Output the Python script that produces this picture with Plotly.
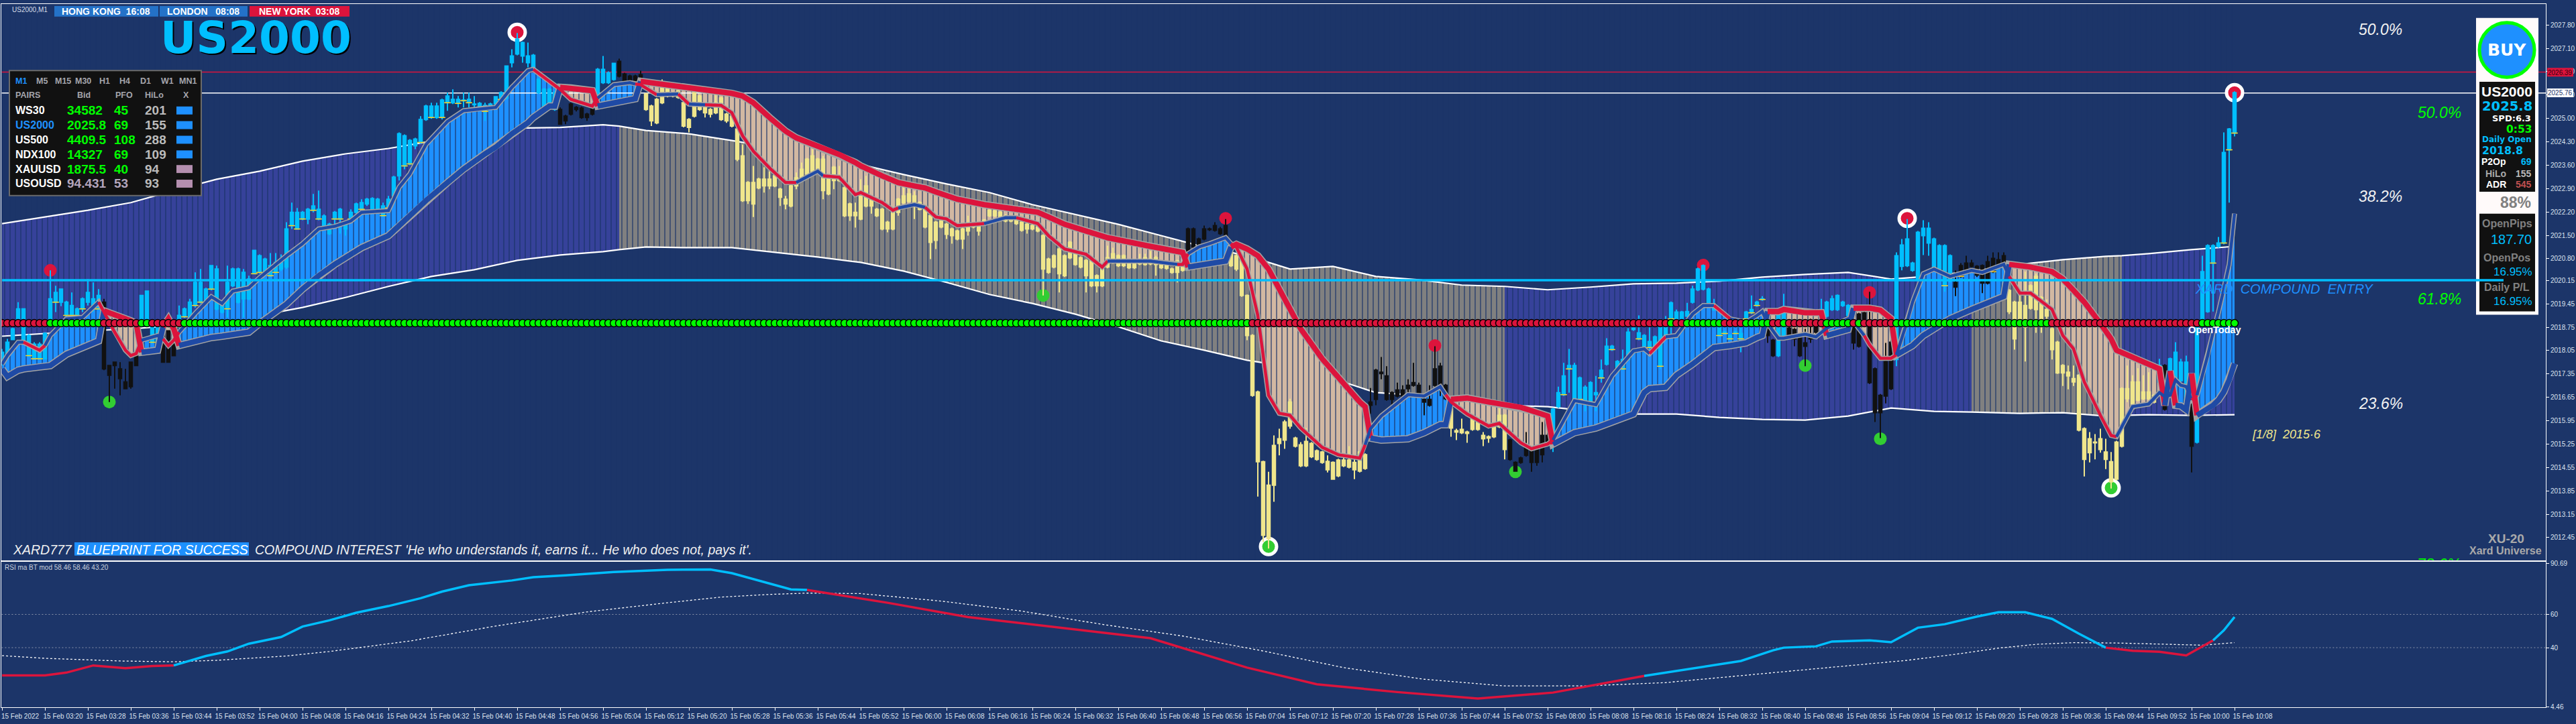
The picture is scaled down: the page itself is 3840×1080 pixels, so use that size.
import numpy as np
import pandas as pd
import plotly.graph_objects as go

# ---------------------------------------------------------------- data
PRICE_BASE = 2000.0          # all price lists below: hundredths of a point above the base
FIRST_BAR = pd.Timestamp("2022-02-15 03:12")
BAR_COUNT = 417

candle_high = [
1810,1840,1874,1950,1930,1854,1830,1830,1860,2045,
1999,1989,1954,1979,1934,1964,2019,2009,1989,1960,
1760,1770,1770,1750,1770,1800,1970,1983,1880,1880,
1864,1864,1840,1940,1934,1960,2039,2049,1993,2059,
2059,1954,2059,2053,2053,2049,2029,2105,2093,2083,
2097,2097,2093,2189,2248,2232,2223,2232,2274,2284,
2213,2187,2223,2232,2189,2228,2248,2258,2262,2264,
2262,2248,2268,2328,2458,2452,2438,2442,2507,2541,
2547,2547,2559,2577,2587,2567,2577,2577,2567,2549,
2547,2547,2567,2581,2657,2707,2756,2730,2727,2693,
2621,2591,2591,2583,2533,2511,2547,2537,2535,2517,
2533,2651,2687,2641,2665,2679,2637,2631,2631,2643,
2577,2541,2561,2617,2597,2581,2587,2551,2501,2581,
2571,2537,2531,2571,2565,2517,2511,2471,2422,2312,
2358,2322,2354,2342,2332,2292,2268,2302,2338,2368,
2382,2408,2382,2388,2326,2358,2358,2296,2248,2248,
2318,2328,2262,2232,2232,2193,2232,2262,2294,2294,
2282,2252,2242,2213,2193,2197,2187,2173,2167,2173,
2209,2187,2189,2199,2228,2227,2223,2213,2209,2199,
2193,2187,2183,2179,2153,2083,2093,2119,2093,2133,
2105,2087,2079,2083,2033,2059,2119,2113,2093,2093,
2073,2075,2095,2095,2103,2089,2069,2065,2053,2077,
2065,2173,2173,2143,2179,2173,2189,2175,2199,2113,
2093,2083,1973,1854,1685,1475,1442,1551,1571,1597,
1661,1547,1531,1573,1531,1509,1505,1491,1473,1481,
1493,1519,1493,1505,1497,1693,1750,1786,1758,1683,
1709,1701,1719,1768,1709,1663,1701,1818,1768,1705,
1635,1571,1601,1565,1609,1605,1561,1551,1583,1637,
1615,1541,1473,1487,1561,1515,1515,1591,1573,1633,
1697,1768,1810,1768,1727,1701,1713,1729,1778,1842,
1822,1776,1808,1872,1878,1910,1854,1878,1850,1900,
1908,1952,1928,1924,1948,1999,2053,2063,1993,1960,
1894,1864,1854,1864,1900,1924,1970,1954,1968,1910,
1840,1932,1975,1876,1872,1854,1870,1900,1890,1960,
1954,1970,1973,1954,1944,1896,1918,1922,1981,1754,
1675,1828,1906,2099,2139,2199,2071,2163,2195,2189,
2143,2123,2123,2093,2045,2067,2089,2077,2061,2063,
2089,2099,2099,2099,1989,1954,1975,2041,2003,2035,
1968,1958,1876,1834,1764,1760,1760,1734,1575,1561,
1555,1571,1541,1501,1535,1695,1760,1731,1752,1731,
1740,1675,1780,1764,1784,1830,1780,1790,1649,1878,
2089,2123,2123,2145,2458,2471,2581]

candle_body_top = [
1800,1830,1870,1930,1930,1850,1824,1824,1856,1960,
1979,1989,1950,1940,1930,1960,1979,1960,1970,1950,
1760,1770,1750,1711,1770,1796,1970,1983,1876,1876,
1864,1864,1836,1910,1930,1950,2009,2009,1989,2059,
2049,1950,2009,2049,2049,2039,2019,2105,2089,2079,
2059,2069,2069,2169,2219,2219,2219,2228,2238,2228,
2208,2183,2219,2228,2183,2219,2244,2248,2258,2260,
2258,2238,2258,2324,2454,2448,2434,2438,2497,2537,
2537,2537,2555,2567,2557,2557,2555,2557,2543,2545,
2539,2543,2565,2577,2657,2687,2737,2727,2687,2689,
2617,2587,2587,2577,2527,2507,2543,2533,2531,2513,
2529,2647,2647,2637,2665,2671,2633,2627,2627,2631,
2573,2537,2557,2593,2593,2577,2581,2547,2497,2577,
2567,2533,2527,2547,2561,2513,2507,2468,2388,2308,
2308,2318,2318,2318,2328,2288,2258,2298,2322,2348,
2378,2388,2378,2378,2322,2354,2328,2292,2244,2219,
2268,2298,2258,2228,2228,2189,2228,2258,2268,2274,
2268,2248,2238,2209,2189,2193,2183,2169,2163,2169,
2175,2183,2179,2195,2225,2223,2219,2209,2205,2195,
2189,2183,2179,2175,2149,2079,2089,2109,2089,2129,
2095,2083,2075,2075,2029,2049,2083,2095,2089,2089,
2069,2069,2075,2083,2079,2083,2065,2061,2049,2073,
2059,2169,2169,2139,2169,2169,2179,2169,2179,2109,
2089,2079,1970,1850,1681,1472,1402,1521,1541,1591,
1651,1543,1523,1533,1527,1505,1501,1473,1470,1477,
1477,1477,1470,1501,1493,1651,1746,1740,1729,1679,
1687,1687,1701,1709,1701,1659,1659,1750,1758,1701,
1631,1565,1569,1561,1605,1601,1551,1547,1579,1611,
1611,1537,1470,1483,1515,1511,1511,1551,1551,1629,
1679,1729,1760,1760,1723,1695,1709,1679,1746,1818,
1818,1772,1778,1860,1872,1858,1850,1832,1846,1878,
1886,1948,1920,1920,1922,1989,2049,2059,1989,1942,
1890,1860,1850,1860,1856,1920,1928,1950,1960,1892,
1836,1928,1928,1872,1868,1850,1828,1846,1880,1928,
1950,1960,1970,1950,1940,1892,1914,1918,1890,1750,
1671,1772,1830,2089,2121,2139,2067,2159,2171,2171,
2139,2119,2119,2089,2009,2059,2067,2067,2057,2059,
2071,2081,2077,2089,1985,1950,1950,1940,1999,2027,
1964,1928,1870,1830,1760,1740,1721,1731,1571,1541,
1531,1541,1501,1472,1531,1691,1691,1711,1711,1681,
1681,1671,1760,1760,1780,1800,1770,1770,1645,1874,
2041,2119,2119,2127,2398,2468,2577]

candle_body_bottom = [
1770,1790,1838,1890,1836,1790,1780,1780,1780,1890,
1950,1950,1910,1910,1910,1930,1950,1930,1930,1750,
1731,1760,1721,1691,1697,1760,1896,1896,1830,1810,
1770,1770,1790,1876,1906,1890,1940,1950,1950,1989,
1930,1920,1930,1999,1950,1960,1960,2035,2039,2033,
2029,2039,2049,2055,2179,2169,2199,2199,2225,2199,
2169,2155,2199,2199,2169,2199,2219,2228,2244,2225,
2219,2209,2232,2268,2328,2358,2364,2418,2428,2497,
2503,2503,2503,2547,2547,2545,2553,2547,2541,2535,
2521,2533,2543,2557,2561,2667,2693,2687,2667,2647,
2577,2521,2547,2527,2483,2493,2513,2527,2503,2503,
2513,2567,2607,2607,2617,2627,2613,2613,2613,2613,
2527,2493,2487,2547,2567,2567,2563,2477,2473,2507,
2527,2517,2513,2517,2497,2493,2477,2378,2254,2254,
2244,2292,2298,2298,2298,2264,2244,2238,2298,2318,
2334,2342,2348,2284,2274,2314,2314,2209,2209,2209,
2199,2238,2238,2209,2169,2169,2169,2219,2248,2252,
2248,2228,2175,2129,2135,2175,2153,2149,2139,2139,
2163,2175,2163,2183,2209,2209,2203,2193,2193,2185,
2165,2169,2169,2163,2049,2039,2055,2035,2029,2083,
2063,2055,2029,1999,1999,1999,2055,2069,2059,2059,
2053,2053,2065,2063,2065,2063,2053,2051,2039,2039,
2045,2095,2115,2115,2139,2167,2165,2155,2145,2059,
2049,1970,1850,1671,1472,1252,1242,1402,1527,1537,
1579,1519,1460,1460,1487,1479,1470,1448,1420,1430,
1460,1456,1448,1444,1452,1641,1659,1736,1659,1659,
1669,1669,1691,1701,1677,1651,1641,1701,1701,1661,
1573,1561,1559,1557,1569,1569,1541,1543,1547,1577,
1509,1479,1444,1470,1491,1470,1470,1493,1529,1529,
1637,1673,1750,1659,1659,1651,1651,1673,1723,1764,
1808,1742,1750,1778,1868,1840,1818,1814,1808,1758,
1842,1900,1878,1890,1908,1950,1987,1989,1942,1928,
1850,1856,1840,1856,1840,1900,1918,1940,1958,1850,
1790,1790,1840,1842,1840,1790,1818,1840,1860,1910,
1908,1928,1928,1940,1910,1828,1818,1900,1709,1619,
1619,1669,1691,1778,2057,2059,2045,2017,2149,2127,
2049,2049,1999,2013,1995,2027,2043,2057,2031,2007,
2007,2041,2057,2057,1922,1840,1900,1876,1932,1928,
1900,1908,1808,1738,1738,1729,1711,1567,1479,1499,
1529,1509,1479,1412,1420,1519,1661,1631,1657,1661,
1661,1651,1711,1629,1719,1719,1715,1657,1519,1531,
1886,1922,2067,2117,2127,2406,2456]

candle_low = [
1760,1780,1838,1886,1830,1786,1778,1778,1778,1886,
1920,1938,1906,1906,1906,1920,1940,1920,1926,1746,
1651,1691,1671,1691,1691,1758,1890,1890,1826,1806,
1770,1770,1788,1870,1902,1886,1934,1946,1946,1985,
1926,1916,1904,1995,1946,1904,1956,2033,2035,2029,
2025,2033,2043,2049,2169,2167,2195,2183,2219,2195,
2167,2151,2175,2155,2149,2195,2215,2225,2238,2221,
2215,2205,2228,2264,2314,2348,2360,2408,2424,2493,
2499,2499,2497,2523,2543,2533,2533,2533,2533,2531,
2493,2529,2539,2553,2557,2653,2689,2667,2653,2643,
2573,2517,2543,2523,2481,2483,2509,2521,2499,2493,
2509,2563,2603,2603,2613,2623,2609,2609,2609,2609,
2523,2477,2483,2543,2563,2563,2559,2473,2458,2503,
2523,2503,2503,2513,2493,2487,2473,2372,2250,2244,
2205,2288,2278,2288,2294,2238,2228,2234,2288,2312,
2330,2338,2344,2258,2270,2288,2310,2205,2193,2173,
2195,2234,2215,2205,2165,2159,2165,2209,2244,2248,
2199,2225,2171,2079,2109,2171,2139,2125,2135,2109,
2149,2171,2149,2179,2205,2205,2199,2189,2189,2181,
2161,2155,2165,2159,1970,2035,2051,1979,2025,2079,
2059,2051,1979,1995,1979,1995,2051,2065,2055,2055,
2049,2049,2061,2059,2061,2029,2049,2047,2035,2009,
2041,2091,2111,2111,2135,2163,2161,2151,2141,2055,
2043,1966,1836,1667,1368,1232,1212,1352,1491,1511,
1571,1515,1456,1456,1483,1475,1466,1440,1420,1426,
1456,1452,1420,1440,1448,1615,1641,1719,1655,1637,
1665,1651,1669,1697,1673,1611,1637,1697,1669,1657,
1547,1537,1555,1529,1565,1565,1519,1529,1543,1573,
1479,1475,1442,1466,1487,1442,1460,1470,1525,1501,
1633,1669,1679,1655,1655,1623,1647,1623,1709,1760,
1804,1738,1746,1774,1864,1836,1814,1792,1804,1750,
1838,1850,1874,1886,1904,1946,1983,1985,1938,1924,
1846,1852,1836,1852,1800,1896,1914,1936,1954,1828,
1786,1786,1836,1838,1818,1786,1758,1828,1856,1906,
1904,1924,1924,1936,1906,1808,1814,1896,1705,1591,
1543,1647,1687,1758,2045,2055,2041,2013,2091,2089,
2045,2045,1981,2009,1968,2023,2039,2053,2025,1977,
2003,2037,2053,2053,1914,1808,1896,1772,1928,1858,
1858,1886,1778,1735,1699,1689,1699,1563,1428,1470,
1479,1499,1450,1392,1416,1515,1651,1627,1653,1657,
1657,1647,1707,1625,1713,1713,1711,1653,1440,1527,
1882,1918,1922,2113,2123,2248,2446]

# colour runs of the candles: (first bar, last bar)
candle_black_runs = [(19,25),(30,32),(104,110),(115,119),(221,228),(255,269),(281,288),
                     (329,330),(333,338),(345,352),(364,373),(403,403),(408,408)]
candle_yellow_runs = [(120,220),(229,254),(270,280),(374,401)]
open_tick_bars = [5,6,7,10,12,13,14,15,17,18,28,33,34,36,37,39,42,47,48,50,51,54,55,56,58,59,60,
                  62,63,65,67,69,71,72,75,76,78,80,82,83,85,86,87,90,93,289,291,292,294,296,298,
                  300,302,305,307,309,311,313,320,321,322,323,324,325,326,327,328,362,365,371,372,
                  412,414,415,416]

band_bar = [0,8,16,24,32,40,48,56,64,72,80,88,96,104,112,115,120,128,136,144,152,160,168,176,184,192,
            200,208,216,224,232,240,248,256,264,272,280,288,296,304,312,320,328,336,344,352,360,367,
            376,384,392,395,400,408,416]
band_upper = [2185,2205,2225,2248,2284,2318,2342,2372,2394,2410,2432,2448,2471,2473,2481,2477,2464,2454,
              2434,2412,2394,2362,2332,2304,2278,2242,2213,2183,2149,2115,2089,2049,2057,2027,2017,2001,
              1997,1987,1995,2005,2007,2013,2025,2033,2039,2019,2029,2043,2063,2077,2087,2089,2095,2107,2117]
band_lower = [1848,1856,1864,1870,1880,1894,1910,1934,1964,1997,2027,2047,2075,2091,2101,2107,2115,2113,
              2113,2099,2085,2069,2043,2009,1973,1946,1914,1876,1834,1806,1776,1756,1721,1679,1671,1661,
              1641,1637,1623,1615,1615,1605,1599,1597,1609,1633,1623,1621,1617,1619,1609,1611,1613,1611,1613]
band_gray_runs = [(115,279),(367,394)]

ma_bar = [0,1,3,4,7,8,9,12,15,18,19,21,23,24,25,26,29,30,31,32,33,36,39,41,43,46,48,53,56,59,62,65,67,72,74,
          76,79,83,86,90,92,95,98,99,102,103,104,106,110,111,114,117,118,119,122,126,128,131,134,136,138,140,
          143,146,148,152,153,156,159,160,164,166,167,170,172,174,176,178,183,187,189,193,195,198,202,205,206,
          214,219,220,221,223,225,228,229,230,232,234,236,238,240,242,246,249,253,254,255,257,262,265,268,269,
          270,273,277,279,283,285,288,289,293,297,300,304,306,307,310,312,315,317,319,322,325,327,328,329,331,
          332,336,338,339,340,344,345,347,348,350,352,353,355,356,358,360,363,367,369,373,374,376,378,382,384,
          386,388,391,393,394,397,400,402,403,404,405,406,407,408,409,411,412,413,414,415,416]
ma_fast = [1764,1790,1830,1830,1806,1820,1850,1900,1904,1950,1920,1860,1806,1790,1796,1836,1850,1840,1820,1836,
           1860,1916,1966,1946,1983,1993,2023,2089,2125,2169,2177,2193,2219,2224,2294,2334,2422,2491,2523,2531,
           2533,2593,2643,2647,2611,2597,2587,2557,2537,2561,2601,2607,2603,2601,2571,2573,2543,2541,2539,2517,
           2448,2402,2352,2308,2308,2342,2328,2324,2272,2278,2248,2225,2232,2242,2234,2205,2199,2179,2185,2203,
           2203,2185,2149,2109,2093,2055,2073,2073,2063,2063,2095,2115,2125,2143,2125,2115,2049,1910,1671,1617,
           1611,1573,1515,1493,1483,1523,1571,1609,1673,1669,1697,1673,1651,1615,1579,1587,1529,1511,1525,1537,
           1655,1643,1729,1804,1810,1796,1846,1850,1914,1940,1940,1900,1890,1910,1922,1886,1842,1842,1854,1846,
           1860,1872,1900,1892,1850,1822,1782,1782,1792,1892,1950,2035,2049,2027,2045,2039,2063,2027,1977,1977,
           1928,1850,1810,1711,1611,1551,1547,1637,1645,1679,1667,1671,1717,1701,1697,1657,1671,1790,1860,1920,
           1989,2063,2215]
ma_slow = [1750,1727,1746,1750,1756,1756,1760,1794,1814,1834,1924,1914,1900,1894,1886,1800,1806,1876,1900,1870,
           1820,1834,1844,1848,1852,1860,1886,1944,1989,2029,2063,2093,2113,2149,2179,2209,2254,2308,2348,2394,
           2414,2454,2487,2503,2537,2537,2593,2591,2583,2537,2547,2555,2559,2611,2605,2597,2591,2587,2581,2575,
           2567,2547,2503,2462,2442,2416,2410,2392,2368,2358,2328,2312,2308,2298,2292,2280,2270,2258,2242,2234,
           2230,2219,2205,2183,2163,2147,2143,2117,2101,2099,2055,2059,2063,2073,2115,2123,2109,2089,2049,1989,
           1928,1870,1780,1723,1651,1637,1543,1537,1541,1559,1583,1583,1659,1663,1651,1647,1635,1625,1609,1525,
           1559,1573,1591,1615,1679,1691,1695,1731,1764,1790,1814,1820,1828,1844,1850,1922,1922,1928,1918,1918,
           1918,1850,1868,1932,1932,1932,1926,1900,1792,1810,1820,1850,1870,1900,1928,1940,1967,2063,2059,2055,
           2041,2019,1985,1950,1886,1840,1806,1784,1764,1750,1641,1744,1641,1639,1627,1736,1611,1631,1641,1657,
           1681,1717,1766]
ma_fast_red_runs = [(4,7),(18,25),(30,32),(99,110),(118,121),(126,127),(131,147),(153,166),(172,182),(189,205),
                    (219,220),(229,253),(269,288),(307,307),(319,319),(347,352),(374,393),(408,408)]
ma_slow_red_runs = [(19,25),(30,32),(104,110),(119,220),(229,254),(270,288),(329,339),(345,352),(374,402),
                    (404,404),(408,408)]
channel_tan_runs = [(19,25),(30,32),(104,110),(119,220),(229,254),(270,288),(329,339),(345,352),(374,402)]

red_signal_bars = [9,228,267,317,348]
red_signal_price = [2045,2201,1820,2061,1979]
red_ring_bars = [96,355,416]
red_ring_price = [2758,2201,2577]
green_signal_bars = [20,194,282,336,350]
green_signal_price = [1651,1970,1442,1760,1541]
green_ring_bars = [236,393]
green_ring_price = [1218,1394]

daily_open_price = 2018.87
daily_red_runs = [(0,8),(19,25),(28,33),(233,310),(312,313),(321,324),(330,331),(333,339),(345,345),
                  (347,352),(382,409)]
high_line_price = 2026.39
bid_price = 2025.76
entry_price = 2020.15

price_ticks = [2027.80,2027.10,2026.40,2025.70,2025.00,2024.30,2023.60,2022.90,2022.20,2021.50,2020.80,2020.15,
               2019.45,2018.75,2018.05,2017.35,2016.65,2015.95,2015.25,2014.55,2013.85,2013.15,2012.45,2011.75]

rsi_bar = [0,5,8,12,17,23,28,32,38,42,46,52,56,61,66,72,78,82,87,95,99,105,114,124,132,136,143,147,150,165,180,196,
           214,232,245,260,275,289,306,318,324,330,332,338,341,348,352,357,362,368,372,377,382,387,392,397,402,407,
           412,414,416]
rsi_value = [23.3,23.5,23.3,25,29.3,27.7,29,29.3,35,37.7,42.4,46.4,52.7,56.4,61,65,69.7,73.7,77.5,80.4,82.4,83.5,85.5,
             86.8,87,84.8,78.4,75,74.7,67,58.4,52.5,45.7,28,18,13.3,9.4,13,23,29,32,38.4,40,40.8,43.7,44.4,43.3,52,
             54.1,58.7,61.3,61.3,57.3,48.4,40,38.1,37.5,35.3,44.4,50.4,58.4]
rsi_red_runs = [(0,31),(150,305),(388,407)]
signal_bar = [0,8,22,32,40,53,61,76,92,109,124,134,143,150,160,175,190,205,220,235,250,265,280,295,310,320,330,339,
              346,355,364,372,379,386,394,402,410,416]
signal_value = [35.2,33.6,32,31.5,32.4,35,37.7,44,53,61.5,67,70.4,72,72.8,72.5,68,62,54,47,38,28,21,17,17,19,22,24.8,
                27.7,29.7,32.4,36,39.7,42,43,42.8,42,41.5,43]
rsi_levels = [60,40]
rsi_ticks = [90.69,60,40,4.46]

pair_names = ["WS30","US2000","US500","NDX100","XAUUSD","USOUSD"]
pair_bid = ["34582","2025.8","4409.5","14327","1875.5","94.431"]
pair_pfo = ["45","69","108","69","40","53"]
pair_hilo = ["201","155","288","109","94","93"]
pair_up = [True,True,True,True,False,False]
pair_bid_green = [True,True,True,True,True,False]
timeframes = ["M1","M5","M15","M30","H1","H4","D1","W1","MN1"]

# ---------------------------------------------------------------- colours
BG = "#1C3569"
WHITE = "#FFFFFF"
CRIMSON = "#DC143C"
SKY = "#00BFFF"
DODGER = "#1E90FF"
KHAKI = "#F0E68C"
BLACK = "#111111"
NAVY_FILL = "#36429A"
GRAY_FILL = "#808080"
TAN_FILL = "#D2B8A2"
MA_BLUE = "#1F4AA5"
MA_EDGE = "#A3A3A3"
LIME = "#00FF00"
GREEN = "#32CD32"

W, H = 3840, 1080
MONO = "Liberation Sans"
WIDE = "DejaVu Sans"

def X(px): return px / W
def Y(py): return 1 - py / H
def price(v): return [PRICE_BASE + a / 100 for a in v]

n = {len(candle_high), len(candle_body_top), len(candle_body_bottom), len(candle_low)}
if n != {BAR_COUNT}:
    raise SystemExit(f"bad lengths {len(candle_high)} {len(candle_body_top)} {len(candle_body_bottom)} {len(candle_low)}")
for a, b in ((ma_bar, ma_fast), (ma_bar, ma_slow), (band_bar, band_upper), (band_bar, band_lower),
             (rsi_bar, rsi_value), (signal_bar, signal_value)):
    if len(a) != len(b):
        raise SystemExit(f"bad grid {len(a)} {len(b)}")

bar_time = pd.date_range(FIRST_BAR, periods=BAR_COUNT, freq="min")
def T(bar): return FIRST_BAR + pd.Timedelta(minutes=bar)
def TS(bars): return [T(b) for b in bars]
def in_runs(b, runs): return any(a <= b <= c for a, c in runs)

x_range = [T(-0.075), T(474)]
main_top, main_bottom = 2028.42, 2011.77

def pieces(bars, vals, runs):
    """Split a polyline in (state, bars, vals) parts sharing their joint vertex."""
    out, i = [], 0
    while i < len(bars):
        s = in_runs(bars[i], runs)
        j = i
        while j + 1 < len(bars) and in_runs(bars[j + 1], runs) == s:
            j += 1
        end = min(j + 1, len(bars) - 1)
        out.append((s, bars[i:end + 1], vals[i:end + 1]))
        i = j + 1
    return out

fig = go.Figure()
NOHOVER = dict(hoverinfo="skip", showlegend=False)
OV = dict(xaxis="x3", yaxis="y3")     # overlay that lies above the base subplot

def polygon(bars, a, b, color):
    xs = TS(bars) + TS(bars[::-1])
    ys = price(a) + price(b[::-1])
    fig.add_trace(go.Scatter(x=xs, y=ys, mode="lines", fill="toself", fillcolor=color,
                             line=dict(width=0, color=color), **NOHOVER))

def separators(lo, hi, width=1.2):
    """Dark gaps between the one-minute columns."""
    sx, sy = [], []
    for i in range(BAR_COUNT):
        t = T(i - 0.5)
        sx += [t, t, None]
        sy += [lo[i], hi[i], None]
    fig.add_trace(go.Scatter(x=sx, y=sy, mode="lines", line=dict(color=BG, width=width), **NOHOVER))

# outer band columns
for s, b, u in pieces(band_bar, band_upper, band_gray_runs):
    lo = [band_lower[band_bar.index(k)] for k in b]
    polygon(b, u, lo, GRAY_FILL if s else NAVY_FILL)
separators([main_bottom] * BAR_COUNT, [main_top] * BAR_COUNT)

# band edges
for v in (band_upper, band_lower):
    fig.add_trace(go.Scatter(x=TS(band_bar), y=price(v), mode="lines", line=dict(color=WHITE, width=2.2), **NOHOVER))

# channel between the moving averages, covering the band edges as in the reference
for s, b, f in pieces(ma_bar, ma_fast, channel_tan_runs):
    sl = [ma_slow[ma_bar.index(k)] for k in b]
    polygon(b, f, sl, TAN_FILL if s else DODGER)
half_bars = [i - 0.5 for i in range(BAR_COUNT)]
f_at = np.interp(half_bars, ma_bar, price(ma_fast))
s_at = np.interp(half_bars, ma_bar, price(ma_slow))
separators(list(np.minimum(f_at, s_at)), list(np.maximum(f_at, s_at)))

# horizontal price lines
for p, c, w in ((high_line_price, CRIMSON, 1.5), (bid_price, WHITE, 1.5)):
    fig.add_trace(go.Scatter(x=x_range, y=[p, p], mode="lines", line=dict(color=c, width=w), **NOHOVER))

# swing markers
def dots(bars, vals, color, ring=False):
    fig.add_trace(go.Scatter(x=TS(bars), y=price(vals), mode="markers",
                             marker=dict(size=24 if ring else 19, color=color,
                                         line=dict(color=WHITE, width=5 if ring else 0)), **NOHOVER))
dots(red_signal_bars, red_signal_price, CRIMSON)
dots(red_ring_bars, red_ring_price, CRIMSON, True)
dots(green_signal_bars, green_signal_price, GREEN)
dots(green_ring_bars, green_ring_price, GREEN, True)

# candles (box-type traces sit under scatter traces, so they go on the overlay)
groups = {"blue": [], "yellow": [], "black": []}
for i in range(BAR_COUNT):
    if in_runs(i, candle_black_runs): groups["black"].append(i)
    elif in_runs(i, candle_yellow_runs): groups["yellow"].append(i)
    else: groups["blue"].append(i)
for name, color in (("blue", SKY), ("yellow", KHAKI), ("black", BLACK)):
    idx = groups[name]
    side = dict(line=dict(color=color, width=2), fillcolor=color)
    fig.add_trace(go.Candlestick(x=[bar_time[i] for i in idx],
                                 open=price([candle_body_bottom[i] for i in idx]),
                                 high=price([candle_high[i] for i in idx]),
                                 low=price([candle_low[i] for i in idx]),
                                 close=price([candle_body_top[i] for i in idx]),
                                 increasing=side, decreasing=side, whiskerwidth=0,
                                 hoverinfo="skip", showlegend=False, **OV))
fig.add_trace(go.Scatter(x=TS(open_tick_bars), y=price([candle_body_bottom[i] for i in open_tick_bars]),
                         mode="markers", marker=dict(symbol="line-ew", size=7, line=dict(color="#FFD21F", width=1.5)),
                         **OV, **NOHOVER))

# moving averages, grey edge first
for v, w in ((ma_slow, 11), (ma_fast, 7.5)):
    fig.add_trace(go.Scatter(x=TS(ma_bar), y=price(v), mode="lines", line=dict(color=MA_EDGE, width=w), **OV, **NOHOVER))
for v, runs, w in ((ma_slow, ma_slow_red_runs, 8), (ma_fast, ma_fast_red_runs, 4.5)):
    for s, b, y in pieces(ma_bar, v, runs):
        fig.add_trace(go.Scatter(x=TS(b), y=price(y), mode="lines", line=dict(color=CRIMSON if s else MA_BLUE, width=w), **OV, **NOHOVER))

# daily open dots
fig.add_trace(go.Scatter(x=list(bar_time), y=[daily_open_price] * BAR_COUNT, mode="markers",
                         marker=dict(size=11, color=[CRIMSON if in_runs(i, daily_red_runs) else LIME for i in range(BAR_COUNT)],
                                     line=dict(color="#000000", width=1.5)), **OV, **NOHOVER))

# fib label cut by the lower window
fig.add_trace(go.Scatter(x=[T(450)], y=[2011.6], mode="text", text=["<i>78.6%</i>"], textposition="middle right",
                         textfont=dict(color=LIME, size=23, family=MONO), cliponaxis=True, **NOHOVER))

# RSI window
def rsi_trace(**kw):
    fig.add_trace(go.Scatter(xaxis="x2", yaxis="y2", **kw, **NOHOVER))
for lv in rsi_levels:
    rsi_trace(x=x_range, y=[lv, lv], mode="lines", line=dict(color="#8B95AB", width=1, dash="2px 3px"))
rsi_trace(x=TS(signal_bar), y=signal_value, mode="lines", line=dict(color=WHITE, width=1.3, dash="3px 3px"))
for s, b, y in pieces(rsi_bar, rsi_value, rsi_red_runs):
    rsi_trace(x=TS(b), y=y, mode="lines", line=dict(color=CRIMSON if s else SKY, width=3.5))

# ---------------------------------------------------------------- overlay panels
shapes, notes = [], []
def rect(x0, y0, x1, y1, fill, line=None, lw=0, kind="rect"):
    shapes.append(dict(type=kind, xref="paper", yref="paper", x0=X(x0), x1=X(x1), y0=Y(y1), y1=Y(y0),
                       fillcolor=fill, line=dict(color=line or fill, width=lw), layer="above"))
def label(x, y, text, size, color, family=MONO, anchor="left", bold=False, italic=False, bg=None, shadow=None):
    t = text
    if bold: t = f"<b>{t}</b>"
    if italic: t = f"<i>{t}</i>"
    f = dict(size=size, color=color, family=family)
    if shadow: f["shadow"] = shadow
    notes.append(dict(xref="paper", yref="paper", x=X(x), y=Y(y), text=t, showarrow=False, xanchor=anchor,
                      yanchor="middle", font=f, bgcolor=bg, borderpad=0, borderwidth=0))

# session clocks and symbol
label(18, 11, "US2000,M1", 10, "#D8DEE8")
rect(81, 5, 236, 21, "#2472C8")
rect(238, 5, 369, 21, "#2472C8")
rect(372, 5, 521, 21, CRIMSON)
label(158, 13, "HONG KONG  16:08", 14, WHITE, anchor="center", bold=True)
label(303, 13, "LONDON   08:08", 14, WHITE, anchor="center", bold=True)
label(446, 13, "NEW YORK  03:08", 14, WHITE, anchor="center", bold=True)
label(381, 53, "US2000", 66, SKY, family=WIDE, anchor="center", bold=True, shadow="2px 2px 0px #000000")

# watch-list table
rect(14, 102, 300, 290, "#111111", "#6A6A6A", 2)
tf_x = [23, 54, 82, 112, 148, 178, 209, 240, 267]
for i, (tf, tx) in enumerate(zip(timeframes, tf_x)):
    label(tx, 118, tf, 12.5, DODGER if i == 0 else "#A5A5AD", bold=True)
for tx, tl in ((23, "PAIRS"), (115, "Bid"), (172, "PFO"), (216, "HiLo"), (273, "X")):
    label(tx, 139, tl, 12.5, "#A5A5AD", bold=True)
for i in range(len(pair_names)):
    ry = 162 + 22 * i
    label(23, ry, pair_names[i], 16, DODGER if pair_names[i] == "US2000" else WHITE, bold=True)
    col = LIME if pair_bid_green[i] else "#B3A5BC"
    label(100, ry, pair_bid[i], 19, col, bold=True)
    label(170, ry, pair_pfo[i], 19, col, bold=True)
    label(216, ry, pair_hilo[i], 19, "#BBBBBB", bold=True)
    rect(263, ry - 6, 287, ry + 6, DODGER if pair_up[i] else "#B48FAF")

# fibonacci and other chart labels
for tx, ty, tl, c in ((3516, 40, "50.0%", "#F2F2F2"), (3604, 165, "50.0%", LIME), (3516, 291, "38.2%", "#F2F2F2"),
                      (3604, 445, "61.8%", LIME), (3516, 602, "23.6%", "#F2F2F2")):
    label(tx, ty, tl, 23, c, italic=True)
label(3272, 430, "XARD  COMPOUND  ENTRY", 20, DODGER, italic=True)
label(3301, 492, "OpenToday", 14.5, WHITE, anchor="center", bold=True)
label(3357, 649, "[1/8]  2015·6", 18, KHAKI, italic=True)
label(19, 822, "XARD777", 19.5, "#F0F0F0", italic=True)
rect(111, 811, 371, 831, DODGER)
label(114, 822, "BLUEPRINT FOR SUCCESS", 19.5, WHITE, italic=True)
label(380, 822, "COMPOUND INTEREST", 19.5, "#F0F0F0", italic=True)
label(604, 822, "'He who understands it, earns it... He who does not, pays it'.", 19.5, "#F0F0F0", italic=True)
label(3736, 805, "XU-20", 19, "#A9A9A9", anchor="center", bold=True)
label(3789, 824, "Xard Universe", 16, "#A9A9A9", anchor="right", bold=True)
label(7, 849, "RSI ma BT mod 58.46 58.46 43.20", 10, "#C9D0DC")

# right-hand trade panel
rect(3691, 23, 3784, 469, "#FFFAFA")
rect(3696, 119, 3779, 284, "#111111")
rect(3696, 317, 3779, 464, "#111111")
rect(3696, 30, 3778, 112, DODGER, LIME, 5, kind="circle")
shapes.append(dict(type="line", xref="paper", yref="paper", x0=X(3), x1=X(3732), y0=Y(417), y1=Y(417),
                   line=dict(color=SKY, width=3.5), layer="above"))
label(3737, 71, "BUY", 25, WHITE, family=WIDE, anchor="center", bold=True)
label(3737, 133, "US2000", 21, WHITE, anchor="center", bold=True)
label(3737, 156, "2025.8", 19.5, SKY, family=WIDE, anchor="center", bold=True)
label(3773, 174, "SPD:6.3", 13, WHITE, family=WIDE, anchor="right", bold=True)
label(3775, 190, "0:53", 15.5, LIME, family=WIDE, anchor="right", bold=True)
label(3737, 206, "Daily Open", 12, SKY, family=WIDE, anchor="center", bold=True)
label(3730, 222, "2018.8", 15.8, SKY, family=WIDE, anchor="center", bold=True)
label(3736, 239, "P2Op", 14, WHITE, anchor="right", bold=True)
label(3774, 239, "69", 14, SKY, anchor="right", bold=True)
label(3736, 257, "HiLo", 14, "#AAAAAA", anchor="right", bold=True)
label(3774, 257, "155", 14, "#BBBBBB", anchor="right", bold=True)
label(3736, 273, "ADR", 14, WHITE, anchor="right", bold=True)
label(3774, 273, "545", 14, "#C05050", anchor="right", bold=True)
label(3773, 300, "88%", 23, "#808080", anchor="right", bold=True)
label(3737, 332, "OpenPips", 16, "#808080", anchor="center", bold=True)
label(3774, 356, "187.70", 20, SKY, anchor="right")
label(3737, 383, "OpenPos", 16, "#808080", anchor="center", bold=True)
label(3775, 404, "16.95%", 17, SKY, anchor="right")
label(3737, 428, "Daily P/L", 16, "#808080", anchor="center", bold=True)
label(3775, 449, "16.95%", 17, SKY, anchor="right")

# price tags on the axis
rect(3797, 98, 3836, 111, CRIMSON)
label(3816.5, 105, "2026.39", 10, "#300010", anchor="center")
rect(3797, 129, 3836, 142, WHITE)
label(3816.5, 136, "2025.76", 10, BG, anchor="center")

# ---------------------------------------------------------------- layout
tick_font = dict(family=MONO, size=10, color="#DDE3EE")
tick_bars = list(range(0, BAR_COUNT, 8))
tick_text = ["15 Feb 2022"] + [T(b).strftime("%d %b %H:%M") for b in tick_bars[1:]]
axis_line = dict(showline=True, mirror=True, linecolor=WHITE, linewidth=1, showgrid=False, zeroline=False)
main_x_dom = [X(2.4), X(3795)]
main_y_dom = [Y(838), Y(2.3)]

fig.update_layout(
    width=W, height=H, autosize=False, margin=dict(l=0, r=0, t=0, b=0, pad=0),
    paper_bgcolor=BG, plot_bgcolor=BG, showlegend=False, hovermode=False,
    boxgap=0.25, boxgroupgap=0.25, boxmode="overlay",
    xaxis=dict(type="date", domain=main_x_dom, range=x_range, anchor="y", showticklabels=False, ticks="",
               rangeslider=dict(visible=False), **axis_line),
    yaxis=dict(domain=main_y_dom, range=[main_bottom, main_top], anchor="x", side="right",
               tickmode="array", tickvals=price_ticks, ticktext=[f"{p:.2f}" for p in price_ticks],
               ticks="outside", ticklen=4, tickcolor=WHITE, tickfont=tick_font, **axis_line),
    xaxis3=dict(type="date", overlaying="x", domain=main_x_dom, range=x_range, anchor="y3", visible=False,
                rangeslider=dict(visible=False), showgrid=False, zeroline=False),
    yaxis3=dict(overlaying="y", domain=main_y_dom, range=[main_bottom, main_top], anchor="x3", visible=False,
                showgrid=False, zeroline=False),
    xaxis2=dict(type="date", domain=main_x_dom, range=x_range, anchor="y2", tickmode="array",
                tickvals=TS(tick_bars), ticktext=tick_text, ticks="outside", ticklen=4, tickcolor=WHITE,
                ticklabelshift=27, tickfont=tick_font, tickangle=0, **axis_line),
    yaxis2=dict(domain=[Y(1059.3), Y(840.7)], range=[4, 91.44], anchor="x2", side="right",
                tickmode="array", tickvals=rsi_ticks, ticktext=["90.69", "60", "40", "4.46"],
                ticks="outside", ticklen=4, tickcolor=WHITE, tickfont=tick_font, **axis_line),
    shapes=shapes, annotations=notes,
)

fig.write_html("out.html", config={"displayModeBar": False},
               post_script="document.body.style.margin='0';document.body.style.background='#1C3569';")
